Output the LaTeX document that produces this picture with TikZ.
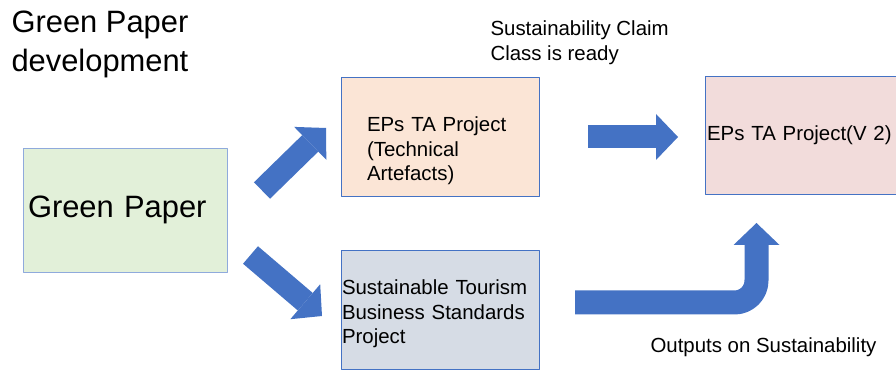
\documentclass[tikz,border=0pt]{standalone}
\usepackage{fontspec}
\setmainfont{Liberation Sans}
\usetikzlibrary{arrows.meta}
\usetikzlibrary{shapes}

\definecolor{flowblue}{HTML}{4472C4}
\definecolor{paleblue}{HTML}{8FAADC}
\definecolor{greenfill}{HTML}{E2F0D9}
\definecolor{peachfill}{HTML}{FBE5D6}
\definecolor{pinkfill}{HTML}{F2DCDB}
\definecolor{greyfill}{HTML}{D6DCE5}

\begin{document}
\begin{tikzpicture}[>={Triangle[length=22bp,width=46bp,line width=0pt]},line join=bevel,
  box/.style={draw=flowblue,line width=0.9bp,align=left,inner sep=0pt},
  big/.style={font=\fontsize{31}{40}\selectfont},
  small/.style={font=\fontsize{20.5}{24.5}\selectfont},
  flow/.style={draw=flowblue,line width=23bp,->}]
\path[use as bounding box,fill=white] (0bp,0bp) rectangle (896bp,371bp);
%%
\node (node_title) at (8bp,299bp) [big,anchor=base west,align=left] {Green Paper\\development};
\node (node_claim) at (487bp,310bp) [font=\fontsize{20.5}{26}\selectfont,anchor=base west,align=left] {Sustainability Claim\\Class is ready};
\node (node_outputs) at (647bp,19bp) [small,anchor=base west] {Outputs on Sustainability};
  \node (node_green) at (125bp,161bp) [box,big,draw=paleblue,fill=greenfill,minimum width=204bp,minimum height=124bp,text width=194bp] {Green Paper};
  \node (node_ta) at (440bp,234.5bp) [box,small,fill=peachfill,minimum width=198bp,minimum height=119bp,text width=146bp] {\rule{0pt}{44bp}EPs TA Project\\(Technical\\Artefacts)};
  \node (node_tourism) at (440bp,61.5bp) [box,small,fill=greyfill,minimum width=198bp,minimum height=119bp,text width=196bp] {\rule{0pt}{24bp}Sustainable Tourism\\Business Standards\\Project};
  \node (node_ta_v2) at (801.5bp,236bp) [box,small,fill=pinkfill,minimum width=193bp,minimum height=118bp,text width=189bp] {EPs TA Project(V 2)};
  \coordinate (up_tail) at (262bp,180.5bp);
  \coordinate (up_tip) at (326bp,243bp);
  \coordinate (down_tail) at (250.5bp,116bp);
  \coordinate (down_tip) at (322bp,55bp);
  \coordinate (right_tail) at (588bp,234bp);
  \coordinate (right_tip) at (678bp,234bp);
  \coordinate (bend_tail) at (575bp,68.5bp);
  \coordinate (bend_tip) at (756.5bp,148bp);
  \draw [flow] (up_tail) -- (up_tip);
  \draw [flow] (down_tail) -- (down_tip);
  \draw [flow] (right_tail) -- (right_tip);
  \draw [flow,line width=24bp,rounded corners=22bp] (bend_tail) -| (bend_tip);
%
\end{tikzpicture}
\end{document}
